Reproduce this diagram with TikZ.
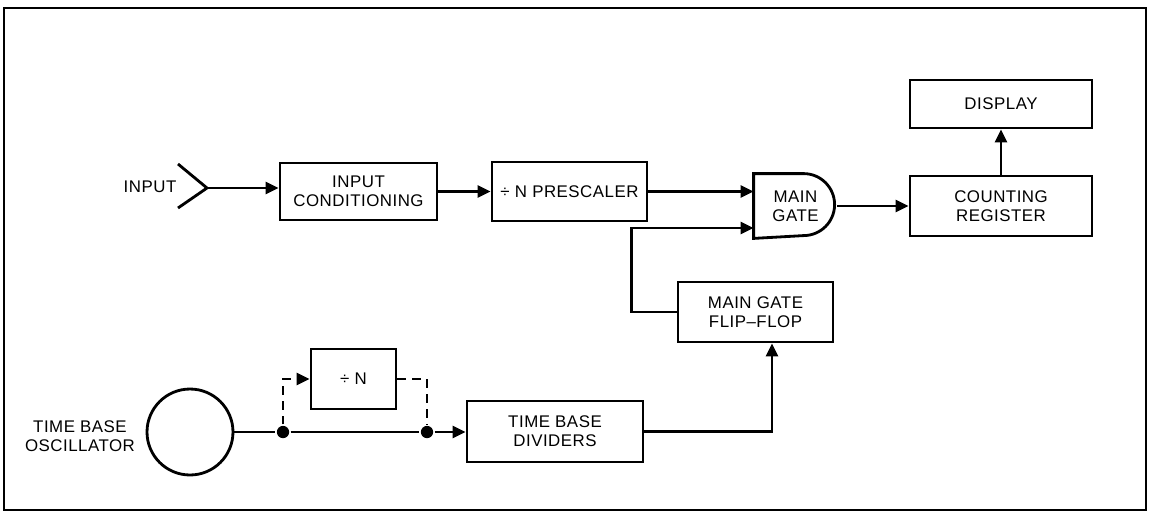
\documentclass[tikz,border=0pt]{standalone}
\usepackage{fontspec}
\setmainfont[LetterSpace=3]{Liberation Sans}
\usetikzlibrary{arrows.meta,calc}

\begin{document}
\begin{tikzpicture}[x=0.02cm, y=-0.02cm,
  font=\fontsize{9.6}{11}\selectfont,
  line width=1.6pt,
  block/.style={draw, minimum width=#1, minimum height=1.2cm, align=center, inner sep=0pt},
  arr/.style={-{Triangle[length=2.6mm, width=2.4mm]}},
  dline/.style={dash pattern=on 5pt off 3.5pt},
  dot/.style={circle, fill, inner sep=0pt, minimum size=7pt}
]
\useasboundingbox (0,0) rectangle (1149,518);
% frame
\draw[line width=1pt] (4,510) -- (4,8) -- (1146,8) -- (1146,510) -- cycle;

% top row
\node (inlabel) at (150,187) {INPUT};
\coordinate (inp) at (207,188);
\draw (178,164) -- (inp) -- (178,208);
\node[block=3.14cm, minimum height=1.14cm] (cond) at (358.5,191.5) {INPUT\\CONDITIONING};
\node[block=3.1cm, minimum height=1.18cm] (pre) at (569.5,191.5) {÷ N PRESCALER};
\node[minimum width=1.62cm, minimum height=1.24cm, inner sep=0pt, align=center] (gate) at (795.5,206) {MAIN\\GATE};
\draw (gate.north west) -- ++(50,0) arc(90:-90:0.62cm) -- (gate.south west) -- cycle;
\node[block=3.64cm] (count) at (1001,206) {COUNTING\\REGISTER};
\node[block=3.64cm, minimum height=0.96cm] (disp) at (1001,104) {DISPLAY};
\node[block=3.1cm] (ff) at (755.5,312) {MAIN GATE\\FLIP--FLOP};

% bottom row
\node[circle, draw, minimum size=1.72cm] (osc) at (190,432) {};
\node[align=center] (osclabel) at (80,436) {TIME BASE\\OSCILLATOR};
\node[block=1.7cm] (divn) at (353.5,379) {÷ N};
\node[block=3.52cm, minimum height=1.22cm] (div) at (555,431.5) {TIME BASE\\DIVIDERS};
\node[dot] (d1) at (283,432) {};
\node[dot] (d2) at (427,432) {};

% connectors
\draw[arr] (inp) -- (inp -| cond.west);
\draw[arr] (cond.east) -- (cond.east -| pre.west);
\draw[arr] (pre.east) -- (pre.east -| gate.west);
\draw[arr] (ff.west) -- ++(-45,0) |- ($(gate.west)+(0,22)$);
\draw[arr] (gate.east) -- (count.west);
\draw[arr] (count.north) -- (disp.south);
\draw (osc.east) -- (d1) -- (d2);
\draw[arr] (d2) -- (d2 -| div.west);
\draw[arr, dline] (d1) |- (divn.west);
\draw[dline] (divn.east) -| (d2);
\draw[arr] (div.east) -| ([xshift=0.33cm]ff.south);
\end{tikzpicture}
\end{document}
